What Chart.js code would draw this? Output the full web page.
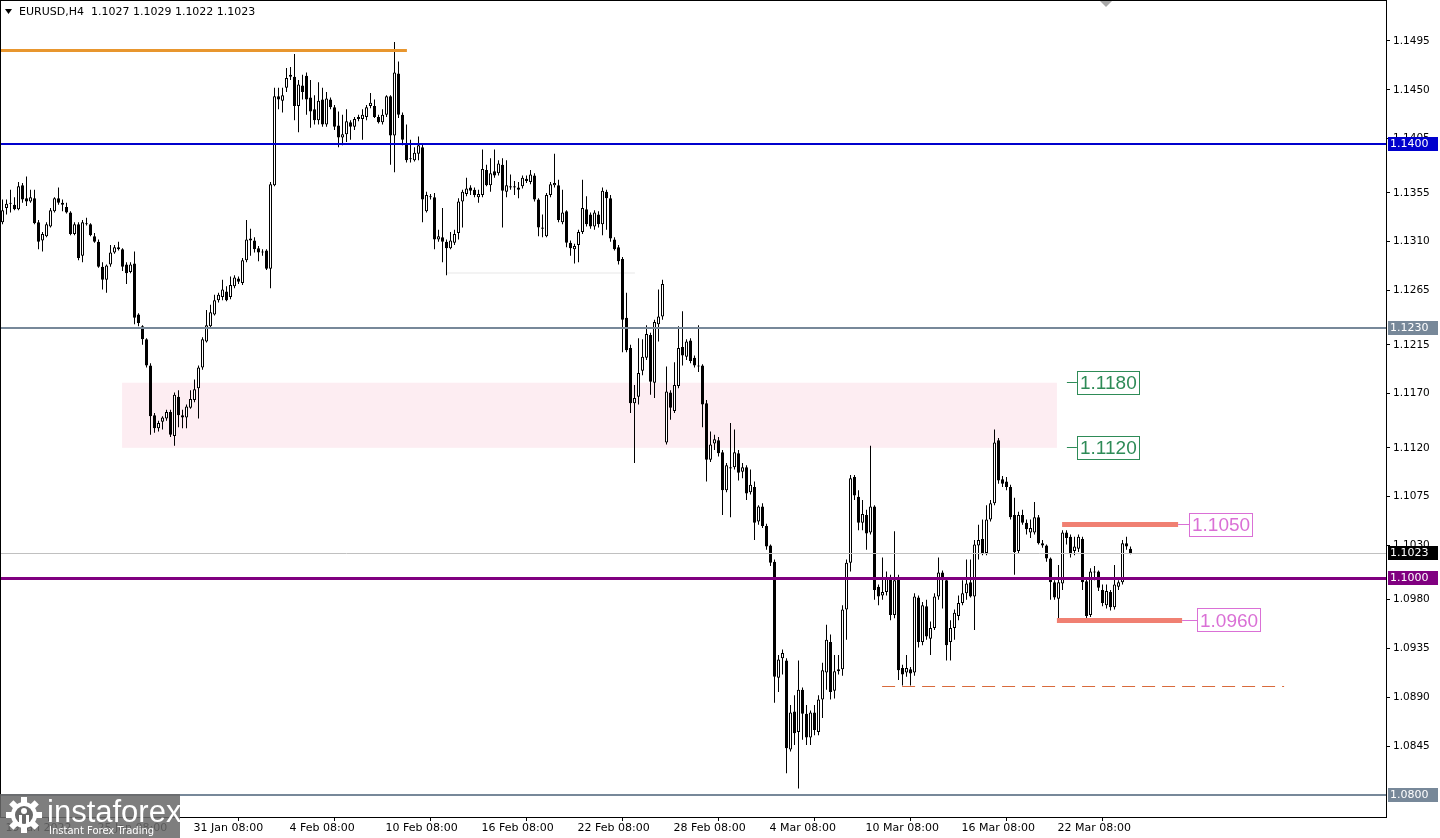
<!DOCTYPE html>
<html>
<head>
<meta charset="utf-8">
<script src="https://cdn.jsdelivr.net/npm/chart.js@4.4.1/dist/chart.umd.min.js"></script>
<style>
  html, body { margin: 0; padding: 0; background: #fff; overflow: hidden; }
  #wrap { position: relative; width: 1440px; height: 838px; }
</style>
</head>
<body>
<div id="wrap"><canvas id="grafico"></canvas></div>
<script>
// EURUSD H4 candles (19 Jan - 25 Mar 2022)
const opens = [
  1.1328,1.1341,1.1346,1.1344,1.1340,1.1362,1.1350,1.1347,1.1350,1.1328,
  1.1311,1.1315,1.1324,1.1338,1.1350,1.1346,1.1342,1.1337,1.1317,1.1326,
  1.1297,1.1327,1.1326,1.1315,1.1310,1.1287,1.1275,1.1289,1.1300,1.1305,
  1.1303,1.1289,1.1282,1.1290,1.1243,1.1232,1.1220,1.1196,1.1150,1.1138,
  1.1144,1.1147,1.1153,1.1131,1.1167,1.1150,1.1148,1.1157,1.1164,1.1175,
  1.1194,1.1218,1.1232,1.1243,1.1256,1.1259,1.1264,1.1259,1.1269,1.1276,
  1.1272,1.1293,1.1313,1.1311,1.1304,1.1301,1.1302,1.1285,1.1362,1.1444,
  1.1440,1.1452,1.1462,1.1462,1.1435,1.1454,1.1463,1.1443,1.1432,1.1422,
  1.1441,1.1418,1.1441,1.1434,1.1417,1.1406,1.1409,1.1420,1.1416,1.1425,
  1.1423,1.1425,1.1435,1.1435,1.1425,1.1420,1.1427,1.1444,1.1408,1.1465,
  1.1427,1.1401,1.1387,1.1385,1.1391,1.1397,1.1338,1.1352,1.1351,1.1312,
  1.1314,1.1310,1.1304,1.1309,1.1318,1.1347,1.1354,1.1360,1.1358,1.1351,
  1.1353,1.1376,1.1362,1.1375,1.1373,1.1381,1.1356,1.1361,1.1361,1.1360,
  1.1361,1.1368,1.1365,1.1371,1.1349,1.1323,1.1315,1.1353,1.1362,1.1362,
  1.1328,1.1338,1.1309,1.1303,1.1307,1.1319,1.1340,1.1335,1.1324,1.1335,
  1.1326,1.1356,1.1350,1.1312,1.1305,1.1294,1.1240,1.1212,1.1161,1.1167,
  1.1191,1.1203,1.1224,1.1180,1.1234,1.1241,1.1125,1.1171,1.1154,1.1177,
  1.1213,1.1204,1.1219,1.1203,1.1196,1.1196,1.1161,1.1109,1.1124,1.1127,
  1.1116,1.1081,1.1102,1.1102,1.1115,1.1098,1.1102,1.1079,1.1084,1.1052,
  1.1066,1.1048,1.1030,1.1015,1.0908,1.0926,1.0924,1.0842,1.0877,1.0858,
  1.0897,1.0875,1.0853,1.0876,1.0858,1.0888,1.0913,1.0941,1.0896,1.0914,
  1.0916,1.0971,1.1014,1.1093,1.1075,1.1051,1.1058,1.1042,1.1066,1.0992,
  1.0984,1.0987,1.0999,1.0966,1.0999,1.0917,1.0913,1.0916,1.0913,1.0982,
  1.0941,1.0974,1.0944,1.0954,1.0983,1.1005,1.0998,1.0941,1.0954,1.0965,
  1.0977,1.0986,1.0996,1.0983,1.1030,1.1036,1.1023,1.1054,1.1069,1.1127,
  1.1091,1.1089,1.1084,1.1058,1.1025,1.1058,1.1051,1.1042,1.1042,1.1056,
  1.1032,1.1030,1.1018,1.0996,1.0981,1.0995,1.1042,1.1038,1.1025,1.1027,
  1.1036,1.0997,1.0966,1.1006,1.1006,1.0989,1.0975,1.0987,1.0973,1.0992,
  1.0996,1.1032,1.1027
];
const highs = [
  1.1349,1.1349,1.1358,1.1351,1.1365,1.1364,1.1370,1.1358,1.1358,1.1330,
  1.1319,1.1328,1.1341,1.1351,1.1360,1.1349,1.1346,1.1338,1.1328,1.1328,
  1.1330,1.1332,1.1327,1.1318,1.1312,1.1291,1.1289,1.1307,1.1307,1.1310,
  1.1304,1.1291,1.1291,1.1301,1.1244,1.1233,1.1221,1.1198,1.1152,1.1145,
  1.1149,1.1155,1.1155,1.1171,1.1173,1.1155,1.1160,1.1173,1.1183,1.1196,
  1.1222,1.1247,1.1252,1.1261,1.1263,1.1275,1.1269,1.1278,1.1279,1.1278,
  1.1295,1.1330,1.1322,1.1314,1.1306,1.1303,1.1303,1.1365,1.1452,1.1452,
  1.1452,1.1470,1.1471,1.1483,1.1459,1.1464,1.1466,1.1459,1.1445,1.1457,
  1.1452,1.1448,1.1443,1.1436,1.1430,1.1427,1.1432,1.1422,1.1425,1.1427,
  1.1432,1.1436,1.1447,1.1441,1.1427,1.1432,1.1445,1.1445,1.1494,1.1476,
  1.1429,1.1418,1.1404,1.1397,1.1407,1.1401,1.1356,1.1354,1.1355,1.1321,
  1.1341,1.1312,1.1319,1.1321,1.1350,1.1358,1.1369,1.1362,1.1360,1.1358,
  1.1395,1.1381,1.1387,1.1395,1.1385,1.1387,1.1385,1.1372,1.1366,1.1365,
  1.1371,1.1371,1.1376,1.1373,1.1350,1.1335,1.1355,1.1365,1.1391,1.1367,
  1.1358,1.1339,1.1311,1.1308,1.1321,1.1367,1.1352,1.1337,1.1339,1.1338,
  1.1360,1.1358,1.1353,1.1314,1.1307,1.1296,1.1263,1.1215,1.1178,1.1221,
  1.1220,1.1233,1.1226,1.1238,1.1266,1.1275,1.1195,1.1173,1.1199,1.1232,
  1.1246,1.1220,1.1221,1.1205,1.1233,1.1197,1.1164,1.1135,1.1132,1.1130,
  1.1118,1.1106,1.1143,1.1137,1.1118,1.1106,1.1104,1.1100,1.1089,1.1067,
  1.1069,1.1050,1.1031,1.1017,1.0929,1.0934,1.0926,1.0883,1.0892,1.0924,
  1.0899,1.0883,1.0878,1.0883,1.0892,1.0922,1.0957,1.0948,1.0929,1.0929,
  1.0975,1.1017,1.1095,1.1095,1.1081,1.1072,1.1063,1.1122,1.1067,1.0994,
  1.1019,1.1006,1.1003,1.1043,1.1003,1.0920,1.0929,1.0918,1.0986,1.0984,
  1.0978,1.0980,1.0960,1.0986,1.1019,1.1007,1.1000,1.0961,1.0971,1.0984,
  1.0998,1.1017,1.1017,1.1035,1.1049,1.1054,1.1067,1.1072,1.1137,1.1129,
  1.1094,1.1093,1.1086,1.1074,1.1061,1.1063,1.1054,1.1054,1.1070,1.1058,
  1.1035,1.1031,1.1019,1.0998,1.1012,1.1044,1.1044,1.1040,1.1038,1.1040,
  1.1038,1.0999,1.1009,1.1011,1.1007,1.0994,1.0994,1.0989,1.1012,1.0998,
  1.1035,1.1038,1.1029
];
const lows = [
  1.1326,1.1335,1.1337,1.1339,1.1339,1.1346,1.1343,1.1346,1.1326,1.1303,
  1.1301,1.1314,1.1323,1.1337,1.1344,1.1338,1.1336,1.1316,1.1316,1.1293,
  1.1291,1.1325,1.1315,1.1309,1.1286,1.1266,1.1263,1.1287,1.1299,1.1302,
  1.1283,1.1271,1.1281,1.1234,1.1232,1.1215,1.1194,1.1132,1.1134,1.1135,
  1.1137,1.1145,1.1130,1.1122,1.1139,1.1138,1.1138,1.1156,1.1162,1.1147,
  1.1192,1.1217,1.1231,1.1242,1.1254,1.1256,1.1255,1.1257,1.1267,1.1271,
  1.1270,1.1291,1.1297,1.1300,1.1292,1.1297,1.1284,1.1267,1.1361,1.1432,
  1.1429,1.1448,1.1459,1.1422,1.1411,1.1441,1.1427,1.1415,1.1418,1.1418,
  1.1416,1.1416,1.1432,1.1413,1.1397,1.1399,1.1402,1.1404,1.1413,1.1421,
  1.1404,1.1422,1.1433,1.1424,1.1419,1.1418,1.1425,1.1381,1.1374,1.1424,
  1.1399,1.1383,1.1383,1.1384,1.1385,1.1328,1.1337,1.1349,1.1303,1.1310,
  1.1291,1.1279,1.1303,1.1307,1.1312,1.1323,1.1352,1.1353,1.1351,1.1346,
  1.1351,1.1361,1.1356,1.1369,1.1371,1.1323,1.1351,1.1358,1.1353,1.1350,
  1.1359,1.1364,1.1363,1.1347,1.1315,1.1314,1.1314,1.1351,1.1360,1.1328,
  1.1326,1.1305,1.1297,1.1290,1.1291,1.1317,1.1324,1.1322,1.1321,1.1323,
  1.1316,1.1321,1.1310,1.1302,1.1289,1.1208,1.1208,1.1152,1.1106,1.1160,
  1.1187,1.1201,1.1169,1.1166,1.1218,1.1238,1.1123,1.1146,1.1152,1.1175,
  1.1196,1.1201,1.1198,1.1194,1.1190,1.1139,1.1089,1.1107,1.1118,1.1112,
  1.1058,1.1079,1.1056,1.1100,1.1090,1.1092,1.1072,1.1077,1.1035,1.1049,
  1.1046,1.1026,1.1011,1.0885,1.0895,1.0911,1.0820,1.0840,1.0846,1.0806,
  1.0851,1.0846,1.0846,1.0855,1.0855,1.0871,1.0897,1.0888,1.0889,1.0911,
  1.0910,1.0943,1.1006,1.1072,1.1044,1.1044,1.1026,1.1040,1.0980,1.0975,
  1.0980,1.0984,1.0961,1.0963,1.0906,1.0901,1.0909,1.0901,1.0910,1.0936,
  1.0938,1.0943,1.0929,1.0952,1.0980,1.0972,1.0924,1.0924,1.0943,1.0961,
  1.0975,1.0980,1.0982,1.0952,1.1017,1.1021,1.1021,1.1052,1.1067,1.1087,
  1.1084,1.1081,1.1054,1.1003,1.1023,1.1049,1.1040,1.1037,1.1040,1.1031,
  1.1028,1.1015,1.0980,1.0980,1.0960,1.0989,1.1031,1.1019,1.1021,1.1024,
  1.0989,1.0961,1.0964,1.0998,1.0988,1.0974,1.0972,1.0970,1.0971,1.0989,
  1.0994,1.1026,1.1022
];
const closes = [
  1.1339,1.1345,1.1345,1.1340,1.1361,1.1349,1.1347,1.1351,1.1327,1.1310,
  1.1317,1.1326,1.1339,1.1350,1.1346,1.1344,1.1337,1.1317,1.1326,1.1295,
  1.1328,1.1326,1.1316,1.1310,1.1287,1.1275,1.1288,1.1300,1.1305,1.1303,
  1.1287,1.1281,1.1289,1.1240,1.1235,1.1220,1.1196,1.1149,1.1138,1.1143,
  1.1148,1.1153,1.1132,1.1169,1.1150,1.1148,1.1158,1.1165,1.1174,1.1194,
  1.1220,1.1233,1.1245,1.1256,1.1261,1.1266,1.1256,1.1270,1.1277,1.1273,
  1.1293,1.1312,1.1311,1.1303,1.1300,1.1300,1.1285,1.1363,1.1444,1.1441,
  1.1445,1.1461,1.1464,1.1435,1.1455,1.1448,1.1441,1.1430,1.1422,1.1440,
  1.1418,1.1442,1.1434,1.1416,1.1406,1.1409,1.1421,1.1416,1.1423,1.1423,
  1.1427,1.1434,1.1438,1.1425,1.1420,1.1427,1.1444,1.1408,1.1466,1.1427,
  1.1404,1.1385,1.1386,1.1392,1.1399,1.1349,1.1353,1.1351,1.1312,1.1315,
  1.1310,1.1304,1.1311,1.1317,1.1347,1.1356,1.1359,1.1357,1.1353,1.1354,
  1.1377,1.1362,1.1373,1.1371,1.1382,1.1357,1.1362,1.1360,1.1360,1.1358,
  1.1369,1.1366,1.1372,1.1349,1.1323,1.1322,1.1353,1.1363,1.1364,1.1330,
  1.1337,1.1309,1.1304,1.1306,1.1319,1.1341,1.1326,1.1324,1.1337,1.1326,
  1.1357,1.1350,1.1313,1.1303,1.1292,1.1238,1.1210,1.1161,1.1166,1.1189,
  1.1204,1.1225,1.1181,1.1236,1.1241,1.1271,1.1172,1.1157,1.1178,1.1212,
  1.1205,1.1218,1.1200,1.1196,1.1195,1.1160,1.1109,1.1123,1.1128,1.1115,
  1.1081,1.1104,1.1101,1.1116,1.1097,1.1102,1.1078,1.1086,1.1051,1.1066,
  1.1048,1.1029,1.1014,1.0909,1.0925,1.0931,1.0843,1.0876,1.0857,1.0897,
  1.0875,1.0853,1.0876,1.0860,1.0888,1.0915,1.0943,1.0895,1.0914,1.0916,
  1.0971,1.1014,1.1092,1.1076,1.1051,1.1059,1.1041,1.1066,1.0989,1.0983,
  1.0987,1.1000,1.0966,1.0998,1.0915,1.0911,1.0917,1.0912,1.0983,1.0941,
  1.0975,1.0946,1.0954,1.0983,1.1005,1.0998,1.0938,1.0954,1.0968,1.0977,
  1.0986,1.0995,1.0983,1.1031,1.1035,1.1023,1.1054,1.1069,1.1125,1.1090,
  1.1087,1.1084,1.1056,1.1024,1.1058,1.1051,1.1045,1.1046,1.1056,1.1032,
  1.1030,1.1018,1.0996,1.0982,1.0996,1.1042,1.1037,1.1022,1.1029,1.1038,
  1.0996,1.0965,1.1006,1.1005,1.0991,1.0977,1.0988,1.0973,1.0994,1.0996,
  1.1032,1.1029,1.1023
];

// time axis labels (candle index -> text)
const xTickIdx = [0, 23, 47, 71, 95, 119, 143, 167, 191, 215, 239, 263];
const xTickText = ['19 Jan 2022', '25 Jan 08:00', '31 Jan 08:00', '4 Feb 08:00', '10 Feb 08:00', '16 Feb 08:00',
  '22 Feb 08:00', '28 Feb 08:00', '4 Mar 08:00', '10 Mar 08:00', '16 Mar 08:00', '22 Mar 08:00'];
// price axis labels
const yTickVals = [1.0845, 1.0890, 1.0935, 1.0980, 1.1030, 1.1075, 1.1120, 1.1170, 1.1215, 1.1265,
  1.1310, 1.1355, 1.1405, 1.1450, 1.1495];
// levels drawn on the chart
const zoneLevels = [1.1180, 1.1120];
const rangeLevels = [1.1050, 1.0960];
const supportLevel = 1.0900;
const topLevel = 1.1486;
const fullLevels = [1.1400, 1.1230, 1.1000, 1.0800];
const bidPrice = 1.1023;

const FONT = '"DejaVu Sans", Verdana, sans-serif';
const idx = opens.map((_, i) => i);

function hline(ctx, x0, x1, py, color, w, dash) {
  ctx.save();
  ctx.strokeStyle = color;
  ctx.lineWidth = w;
  if (dash) ctx.setLineDash(dash);
  const yy = (w % 2) ? Math.round(py - 0.5) + 0.5 : Math.round(py);
  ctx.beginPath();
  ctx.moveTo(x0, yy);
  ctx.lineTo(x1, yy);
  ctx.stroke();
  ctx.restore();
}

function tagBox(ctx, txt, left, py, color) {
  ctx.save();
  ctx.font = '19px "Liberation Sans", Arial, sans-serif';
  const w = Math.round(ctx.measureText(txt).width) + 5;
  const top = Math.round(py - 12);
  ctx.fillStyle = '#fff';
  ctx.fillRect(left, top, w, 24);
  ctx.strokeStyle = color;
  ctx.lineWidth = 1;
  ctx.strokeRect(left + 0.5, top + 0.5, w, 23);
  ctx.fillStyle = color;
  ctx.textBaseline = 'middle';
  ctx.fillText(txt, left + 3, py + 1);
  ctx.restore();
}

function axisTag(ctx, txt, py, bg) {
  ctx.save();
  ctx.fillStyle = bg;
  ctx.fillRect(1388, Math.round(py) - 7, 50, 14);
  ctx.fillStyle = '#fff';
  ctx.font = '11px ' + FONT;
  ctx.textBaseline = 'middle';
  ctx.fillText(txt, 1390, Math.round(py) + 0.5);
  ctx.restore();
}

const levelsPlugin = {
  id: 'levels',
  beforeDatasetsDraw(chart) {
    const { ctx, scales: { x, y } } = chart;
    // pink zone behind the candles
    const zx0 = x.getPixelForValue(29.9), zx1 = x.getPixelForValue(263.6);
    const zy0 = y.getPixelForValue(zoneLevels[0]), zy1 = y.getPixelForValue(zoneLevels[1]);
    ctx.save();
    ctx.fillStyle = '#fdedf2';
    ctx.fillRect(zx0, zy0, zx1 - zx0, zy1 - zy0);
    ctx.restore();
    // faint old line
    hline(ctx, x.getPixelForValue(111.1), x.getPixelForValue(158.1), y.getPixelForValue(1.1281), '#f3f3f3', 2);
  },
  afterDatasetsDraw(chart) {
    const { ctx, chartArea: a, scales: { x, y } } = chart;
    hline(ctx, a.left, a.right, y.getPixelForValue(bidPrice), '#c0c0c0', 1);
    hline(ctx, a.left, x.getPixelForValue(101.1), y.getPixelForValue(topLevel), '#e8962e', 3);
    hline(ctx, a.left, a.right, y.getPixelForValue(fullLevels[0]), '#0000cd', 2);
    hline(ctx, a.left, a.right, y.getPixelForValue(fullLevels[1]), '#778899', 2);
    hline(ctx, a.left, a.right, y.getPixelForValue(fullLevels[2]), '#800080', 3);
    hline(ctx, a.left, a.right, y.getPixelForValue(fullLevels[3]), '#778899', 2);
    hline(ctx, x.getPixelForValue(219.9), x.getPixelForValue(320.4), y.getPixelForValue(supportLevel), '#d86a3c', 1, [13, 7]);

    // salmon range lines with tags
    const salmon = '#f08072', orchid = '#da70d6', green = '#2e8b57';
    const r1 = y.getPixelForValue(1.1049), r2 = y.getPixelForValue(1.0961);
    const e1 = x.getPixelForValue(293.9), e2 = x.getPixelForValue(294.9);
    hline(ctx, x.getPixelForValue(264.9), e1, r1, salmon, 5);
    hline(ctx, x.getPixelForValue(263.6), e2, r2, salmon, 5);
    hline(ctx, e1, e1 + 11, r1, orchid, 1);
    hline(ctx, e2, e2 + 15, r2, orchid, 1);
    tagBox(ctx, rangeLevels[0].toFixed(4), Math.round(e1 + 11), r1, orchid);
    tagBox(ctx, rangeLevels[1].toFixed(4), Math.round(e2 + 15), r2, orchid);

    // zone edge tags
    const ze = x.getPixelForValue(263.6);
    zoneLevels.forEach(v => {
      const py = y.getPixelForValue(v);
      hline(ctx, ze + 10, ze + 20, py, green, 1);
      tagBox(ctx, v.toFixed(4), Math.round(ze + 20), py, green);
    });
  },
  afterDraw(chart) {
    const { ctx, chartArea: a, scales: { y } } = chart;
    // frame
    ctx.save();
    ctx.strokeStyle = '#000';
    ctx.lineWidth = 1;
    ctx.strokeRect(a.left + 0.5, a.top + 0.5, a.right - a.left, a.bottom - a.top);
    ctx.restore();

    // price tags on the axis
    axisTag(ctx, fullLevels[0].toFixed(4), y.getPixelForValue(fullLevels[0]), '#0000cd');
    axisTag(ctx, fullLevels[1].toFixed(4), y.getPixelForValue(fullLevels[1]), '#778899');
    axisTag(ctx, bidPrice.toFixed(4), y.getPixelForValue(bidPrice), '#000000');
    axisTag(ctx, fullLevels[2].toFixed(4), y.getPixelForValue(fullLevels[2]), '#800080');
    axisTag(ctx, fullLevels[3].toFixed(4), y.getPixelForValue(fullLevels[3]), '#778899');

    // title
    ctx.save();
    ctx.fillStyle = '#000';
    ctx.beginPath();
    ctx.moveTo(5, 9); ctx.lineTo(12, 9); ctx.lineTo(8.5, 14); ctx.closePath();
    ctx.fill();
    ctx.font = '11px ' + FONT;
    ctx.textBaseline = 'middle';
    const last = opens.length - 1;
    ctx.fillText('EURUSD,H4  ' + [opens[last], highs[last], lows[last], closes[last]].map(v => v.toFixed(4)).join(' '), 19, 12);
    // chart shift marker
    ctx.fillStyle = '#a8a8a8';
    ctx.beginPath();
    ctx.moveTo(1100, 1); ctx.lineTo(1112, 1); ctx.lineTo(1106, 7); ctx.closePath();
    ctx.fill();
    ctx.restore();

    // watermark
    ctx.save();
    ctx.fillStyle = 'rgba(105,105,105,0.86)';
    ctx.fillRect(0, 794, 180, 44);
    ctx.fillStyle = '#fff';
    const cx = 24, cy = 815;
    for (let k = 0; k < 8; k++) {
      ctx.save();
      ctx.translate(cx, cy);
      ctx.rotate(k * Math.PI / 4);
      ctx.fillRect(-3, -18, 6, 8);
      ctx.restore();
    }
    ctx.beginPath(); ctx.arc(cx, cy, 13, 0, Math.PI * 2); ctx.fill();
    ctx.fillStyle = 'rgb(105,105,105)';
    ctx.beginPath(); ctx.arc(cx, cy, 9, 0, Math.PI * 2); ctx.fill();
    ctx.fillStyle = '#fff';
    ctx.beginPath(); ctx.arc(cx, cy - 4, 3, 0, Math.PI * 2); ctx.fill();
    ctx.fillRect(cx - 5, cy, 3, 10);
    ctx.fillRect(cx + 2, cy, 3, 10);
    ctx.font = '31px "Liberation Sans", Arial, sans-serif';
    ctx.textBaseline = 'alphabetic';
    ctx.fillText('instaforex', 47, 822);
    ctx.font = '10px ' + FONT;
    ctx.fillText('Instant Forex Trading', 49, 834);
    ctx.restore();
  }
};

const ctx = document.getElementById('grafico').getContext('2d');
new Chart(ctx, {
  type: 'bar',
  data: {
    datasets: [
      {
        label: 'wicks',
        data: idx.map(i => ({ x: i, y: [lows[i], highs[i]] })),
        backgroundColor: '#000',
        borderWidth: 0,
        barThickness: 1,
        inflateAmount: 0,
        grouped: false,
        order: 2
      },
      {
        label: 'bodies',
        data: idx.map(i => ({ x: i, y: [opens[i], closes[i]] })),
        backgroundColor: idx.map(i => closes[i] >= opens[i] ? '#ffffff' : '#000000'),
        borderColor: '#000',
        borderWidth: 1,
        borderSkipped: false,
        barThickness: 3,
        minBarLength: 1,
        inflateAmount: 0,
        grouped: false,
        order: 1
      }
    ]
  },
  options: {
    responsive: true,
    maintainAspectRatio: false,
    animation: false,
    layout: { padding: 0 },
    plugins: { legend: { display: false }, tooltip: { enabled: false } },
    scales: {
      x: {
        type: 'linear',
        min: -0.625,
        max: 345.875,
        offset: false,
        grid: { drawOnChartArea: false, tickLength: 4, color: '#000' },
        border: { color: '#000' },
        afterBuildTicks: s => { s.ticks = xTickIdx.map(v => ({ value: v })); },
        afterFit: s => { s.height = 21; s.paddingLeft = 0; s.paddingRight = 0; },
        ticks: {
          autoSkip: false, maxRotation: 0, minRotation: 0, align: 'start', padding: 1, labelOffset: 3,
          color: '#000', font: { family: FONT, size: 11 },
          callback: (v, i) => xTickText[i]
        }
      },
      y: {
        position: 'right',
        min: 1.077972,
        max: 1.153279,
        grid: { drawOnChartArea: false, tickLength: 4, color: '#000' },
        border: { color: '#000' },
        afterBuildTicks: s => { s.ticks = yTickVals.map(v => ({ value: v })); },
        afterFit: s => { s.width = 54; s.paddingTop = 0; s.paddingBottom = 0; },
        ticks: {
          autoSkip: false, padding: 3, color: '#000', font: { family: FONT, size: 10.5 },
          callback: v => Number(v).toFixed(4)
        }
      }
    }
  },
  plugins: [levelsPlugin]
});
</script>
</body>
</html>
